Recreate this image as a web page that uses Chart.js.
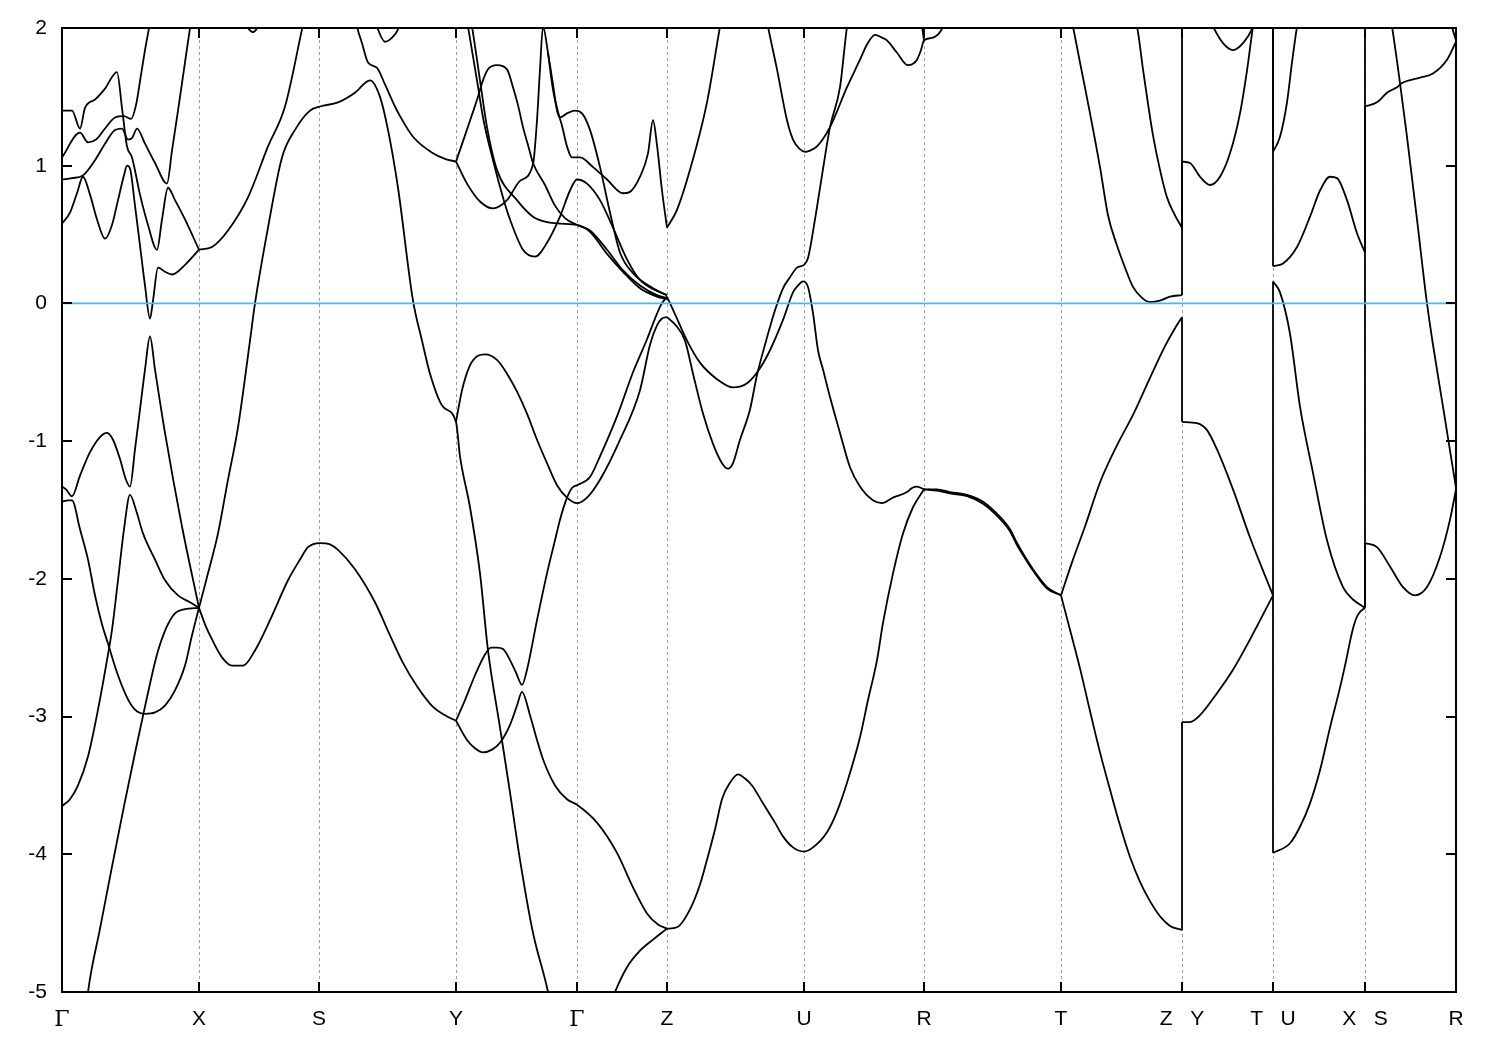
<!DOCTYPE html>
<html>
<head>
<meta charset="utf-8">
<script src="https://cdn.jsdelivr.net/npm/chart.js@4.4.0/dist/chart.umd.min.js"></script>
<style>
  html, body { margin: 0; background: #fff; }
</style>
</head>
<body>
<canvas id="bands" width="1500" height="1050"></canvas>
<script>
// high-symmetry points along the k-path
const kTicks = [0, 1.37, 2.57, 3.94, 5.15, 6.05, 7.42, 8.62, 9.99, 11.20, 12.11, 13.03, 13.94];
const kLabels = ['Γ', 'X', 'S', 'Y', 'Γ', 'Z', 'U', 'R', 'T', 'Z   Y', 'T   U', 'X   S', 'R'];
const energyTicks = [-5, -4, -3, -2, -1, 0, 1, 2];

// bands, [k, E(eV)]
const bandGX1 = [[0,1.40],[0.10,1.40],[0.18,1.27],[0.23,1.42],[0.33,1.48],[0.43,1.56],[0.55,1.68],[0.60,1.42],[0.65,1.14],[0.70,1.06],[0.78,0.79],[0.86,0.57],[0.95,0.39],[1.00,0.61],[1.06,0.84],[1.13,0.75],[1.23,0.61],[1.37,0.39]];
const bandGX2 = [[0,1.06],[0.18,1.24],[0.26,1.17],[0.34,1.19],[0.43,1.27],[0.53,1.35],[0.62,1.36],[0.69,1.34],[0.74,1.44],[0.79,1.66],[0.83,1.84],[0.87,2.00],[0.89,2.09]];
const bandGX3 = [[0,0.90],[0.10,0.91],[0.21,0.93],[0.33,1.04],[0.43,1.16],[0.53,1.26],[0.60,1.27],[0.66,1.19],[0.70,1.20],[0.75,1.27],[0.83,1.16],[0.93,1.02],[1.05,0.87],[1.10,1.11],[1.16,1.40],[1.22,1.70],[1.28,2.00],[1.30,2.09]];
const bandGX4 = [[0,0.58],[0.08,0.66],[0.15,0.80],[0.21,0.92],[0.28,0.79],[0.35,0.61],[0.43,0.47],[0.50,0.57],[0.56,0.75],[0.62,0.93],[0.65,1.00],[0.68,0.98],[0.73,0.71],[0.78,0.42],[0.83,0.13],[0.88,-0.11],[0.91,0.02],[0.96,0.26],[1.03,0.23],[1.10,0.21],[1.23,0.28],[1.37,0.39]];
const bandXS1 = [[1.37,0.39],[1.50,0.41],[1.66,0.53],[1.86,0.77],[2.06,1.14],[2.23,1.43],[2.40,1.99],[2.43,2.09]];
const bandXSY = [[1.37,-2.21],[1.46,-1.96],[1.56,-1.67],[1.66,-1.28],[1.76,-0.90],[1.88,-0.27],[1.93,0.00],[2.06,0.55],[2.20,1.06],[2.33,1.26],[2.48,1.40],[2.58,1.43],[2.76,1.46],[2.93,1.53],[3.08,1.62],[3.18,1.50],[3.26,1.26],[3.36,0.84],[3.51,0.02],[3.60,-0.27],[3.68,-0.51],[3.81,-0.75],[3.94,-0.86],[3.98,-1.11],[4.08,-1.48],[4.18,-1.96],[4.26,-2.52],[4.38,-3.08],[4.48,-3.55],[4.58,-4.04],[4.71,-4.57],[4.86,-5.00],[4.91,-5.20]];
const bandYGZ1 = [[3.94,-0.86],[4.00,-0.63],[4.08,-0.45],[4.16,-0.38],[4.23,-0.37],[4.35,-0.41],[4.45,-0.51],[4.55,-0.64],[4.65,-0.80],[4.75,-0.99],[4.85,-1.16],[4.95,-1.32],[5.05,-1.41],[5.15,-1.45],[5.25,-1.41],[5.38,-1.28],[5.58,-0.99],[5.78,-0.63],[5.88,-0.30],[5.95,-0.16],[6.00,-0.11],[6.05,-0.10]];
const bandGX5 = [[0,-1.33],[0.04,-1.35],[0.10,-1.40],[0.18,-1.25],[0.28,-1.08],[0.38,-0.97],[0.45,-0.94],[0.51,-0.99],[0.58,-1.13],[0.64,-1.28],[0.68,-1.33],[0.73,-1.06],[0.78,-0.77],[0.83,-0.48],[0.88,-0.24],[0.93,-0.48],[1.03,-0.94],[1.20,-1.62],[1.37,-2.21]];
const bandGX6 = [[0,-1.44],[0.06,-1.43],[0.10,-1.43],[0.18,-1.64],[0.26,-1.86],[0.33,-2.12],[0.40,-2.33],[0.46,-2.47],[0.55,-2.68],[0.65,-2.86],[0.73,-2.95],[0.83,-2.98],[0.93,-2.97],[1.03,-2.92],[1.13,-2.81],[1.23,-2.63],[1.30,-2.41],[1.37,-2.21]];
const bandGX7 = [[0,-3.65],[0.08,-3.60],[0.16,-3.50],[0.26,-3.29],[0.36,-2.95],[0.45,-2.59],[0.50,-2.37],[0.56,-2.01],[0.62,-1.64],[0.68,-1.39],[0.74,-1.50],[0.81,-1.67],[0.93,-1.86],[1.03,-2.01],[1.16,-2.12],[1.28,-2.17],[1.37,-2.21]];
const bandGX8 = [[0.24,-5.14],[0.26,-5.00],[0.38,-4.54],[0.50,-4.09],[0.62,-3.65],[0.74,-3.23],[0.85,-2.86],[0.95,-2.55],[1.04,-2.36],[1.13,-2.25],[1.23,-2.22],[1.37,-2.21]];
const bandXSY2 = [[1.37,-2.21],[1.43,-2.33],[1.50,-2.44],[1.60,-2.57],[1.70,-2.63],[1.81,-2.63],[1.93,-2.52],[2.08,-2.30],[2.26,-2.01],[2.38,-1.86],[2.46,-1.77],[2.58,-1.74],[2.68,-1.75],[2.76,-1.79],[2.93,-1.93],[3.13,-2.17],[3.28,-2.41],[3.41,-2.61],[3.55,-2.78],[3.71,-2.93],[3.83,-2.99],[3.94,-3.03]];
const bandYGZ2 = [[3.94,-3.03],[4.05,-3.17],[4.13,-3.23],[4.21,-3.26],[4.30,-3.24],[4.38,-3.19],[4.48,-3.06],[4.55,-2.92],[4.60,-2.82],[4.68,-2.99],[4.75,-3.17],[4.81,-3.31],[4.93,-3.50],[5.05,-3.60],[5.15,-3.64],[5.35,-3.77],[5.55,-3.99],[5.71,-4.24],[5.85,-4.43],[5.96,-4.51],[6.05,-4.54]];
const bandYGZ3 = [[3.94,-3.03],[4.03,-2.88],[4.13,-2.70],[4.23,-2.55],[4.29,-2.50],[4.35,-2.50],[4.41,-2.51],[4.48,-2.59],[4.54,-2.68],[4.60,-2.77],[4.65,-2.66],[4.75,-2.30],[4.85,-1.96],[4.93,-1.72],[4.98,-1.57],[5.05,-1.41],[5.10,-1.34],[5.15,-1.32],[5.28,-1.26],[5.38,-1.11],[5.55,-0.82],[5.71,-0.50],[5.85,-0.26],[5.93,-0.11],[5.99,-0.01],[6.05,0.05]];
const bandGZ4 = [[5.50,-5.06],[5.53,-5.00],[5.65,-4.82],[5.78,-4.70],[5.91,-4.62],[6.05,-4.54]];
const bandZUR1 = [[6.05,-4.54],[6.15,-4.53],[6.28,-4.40],[6.38,-4.22],[6.45,-4.04],[6.53,-3.82],[6.60,-3.60],[6.68,-3.48],[6.76,-3.42],[6.83,-3.45],[6.90,-3.50],[7.01,-3.63],[7.13,-3.77],[7.21,-3.87],[7.31,-3.95],[7.42,-3.98],[7.51,-3.95],[7.65,-3.84],[7.75,-3.69],[7.85,-3.48],[7.98,-3.15],[8.06,-2.88],[8.15,-2.59],[8.21,-2.32],[8.31,-1.96],[8.41,-1.67],[8.51,-1.48],[8.62,-1.35]];
const bandRT1 = [[8.62,-1.35],[8.75,-1.35],[8.88,-1.37],[9.05,-1.39],[9.21,-1.44],[9.38,-1.55],[9.48,-1.64],[9.55,-1.74],[9.63,-1.84],[9.71,-1.93],[9.85,-2.06],[9.99,-2.12]];
const bandRT2 = [[8.62,-1.35],[8.75,-1.36],[8.88,-1.38],[9.05,-1.40],[9.21,-1.455],[9.38,-1.565],[9.48,-1.655],[9.55,-1.755],[9.63,-1.85],[9.71,-1.94],[9.85,-2.07],[9.99,-2.12]];
// these two run on through the Z|Y, T|U and X|S breaks
const bandTail1 = [[9.99,-2.12],[10.10,-1.88],[10.23,-1.62],[10.38,-1.30],[10.55,-1.03],[10.71,-0.81],[10.88,-0.54],[11.03,-0.31],[11.13,-0.18],[11.20,-0.10],[11.20,-0.86],[11.35,-0.87],[11.45,-0.92],[11.55,-1.06],[11.71,-1.35],[11.88,-1.70],[12.11,-2.12],[12.11,0.16],[12.18,0.08],[12.28,-0.22],[12.38,-0.75],[12.51,-1.23],[12.65,-1.72],[12.81,-2.06],[12.91,-2.15],[13.03,-2.21],[13.03,1.43],[13.15,1.46],[13.25,1.53],[13.35,1.57],[13.40,1.60],[13.58,1.64],[13.71,1.67],[13.85,1.77],[13.94,1.90]];
const bandTail2 = [[9.99,-2.12],[10.08,-2.37],[10.18,-2.65],[10.28,-2.96],[10.38,-3.26],[10.48,-3.53],[10.58,-3.79],[10.68,-4.02],[10.78,-4.20],[10.88,-4.34],[10.98,-4.45],[11.08,-4.52],[11.20,-4.55],[11.20,-3.04],[11.28,-3.04],[11.38,-2.99],[11.55,-2.83],[11.71,-2.66],[11.88,-2.44],[12.11,-2.12],[12.11,-3.99],[12.28,-3.92],[12.38,-3.80],[12.48,-3.63],[12.58,-3.39],[12.68,-3.08],[12.78,-2.79],[12.83,-2.63],[12.91,-2.36],[12.96,-2.26],[13.03,-2.21],[13.03,-1.74],[13.15,-1.77],[13.28,-1.91],[13.41,-2.06],[13.53,-2.12],[13.65,-2.06],[13.78,-1.84],[13.88,-1.57],[13.94,-1.35]];
const bandTZY = [[10.09,2.09],[10.11,2.01],[10.21,1.64],[10.28,1.38],[10.38,0.99],[10.46,0.64],[10.55,0.42],[10.63,0.26],[10.71,0.12],[10.80,0.04],[10.88,0.01],[10.98,0.02],[11.08,0.05],[11.20,0.06],[11.20,1.03],[11.28,1.02],[11.38,0.92],[11.48,0.86],[11.58,0.92],[11.68,1.09],[11.78,1.38],[11.85,1.69],[11.91,2.01],[11.93,2.09]];
const bandTZ2 = [[10.69,2.09],[10.75,2.01],[10.81,1.70],[10.86,1.45],[10.91,1.22],[10.98,0.97],[11.05,0.77],[11.13,0.64],[11.20,0.55],[11.20,2.30]];
const bandYT3 = [[11.46,2.09],[11.51,2.01],[11.61,1.89],[11.71,1.84],[11.81,1.89],[11.91,2.01],[11.94,2.09]];
const bandUX1 = [[12.11,2.30],[12.11,0.27],[12.21,0.29],[12.35,0.41],[12.48,0.63],[12.58,0.82],[12.68,0.92],[12.75,0.91],[12.85,0.75],[12.95,0.51],[13.03,0.37],[13.03,2.30]];
const bandUX2 = [[12.11,2.30],[12.11,1.10],[12.18,1.21],[12.25,1.46],[12.30,1.75],[12.35,2.01],[12.37,2.09]];
const bandSR1 = [[13.28,2.09],[13.30,2.01],[13.38,1.60],[13.45,1.21],[13.55,0.61],[13.65,0.00],[13.71,-0.30],[13.81,-0.75],[13.94,-1.34]];
const bandSR2 = [[13.88,2.09],[13.90,2.01],[13.94,1.91]];
const bandZU1 = [[6.05,-0.10],[6.14,-0.16],[6.23,-0.27],[6.31,-0.51],[6.41,-0.80],[6.51,-1.02],[6.60,-1.16],[6.66,-1.20],[6.71,-1.16],[6.78,-0.99],[6.88,-0.77],[6.95,-0.52],[7.03,-0.30],[7.13,-0.05],[7.21,0.11],[7.28,0.19],[7.35,0.26],[7.42,0.28],[7.46,0.33],[7.53,0.61],[7.60,0.93],[7.68,1.28],[7.78,1.57],[7.85,2.01],[7.87,2.09]];
const bandZU2 = [[6.05,0.05],[6.15,-0.11],[6.25,-0.27],[6.38,-0.43],[6.55,-0.55],[6.71,-0.61],[6.85,-0.58],[6.98,-0.47],[7.08,-0.34],[7.21,-0.12],[7.31,0.08],[7.36,0.13],[7.41,0.16],[7.46,0.12],[7.51,-0.07],[7.56,-0.34],[7.61,-0.48],[7.68,-0.68],[7.78,-0.94],[7.88,-1.19],[7.98,-1.33],[8.11,-1.43],[8.20,-1.45],[8.31,-1.41],[8.45,-1.37],[8.50,-1.34],[8.55,-1.33],[8.59,-1.34],[8.62,-1.35]];
const bandUR3 = [[7.04,2.09],[7.06,2.01],[7.15,1.70],[7.25,1.33],[7.31,1.19],[7.38,1.12],[7.43,1.10],[7.48,1.11],[7.55,1.14],[7.68,1.28],[7.85,1.57],[7.98,1.77],[8.05,1.88],[8.13,1.95],[8.20,1.93],[8.25,1.91],[8.35,1.82],[8.46,1.73],[8.51,1.74],[8.55,1.77],[8.59,1.84],[8.62,1.91],[8.71,1.93],[8.81,2.01],[8.84,2.09]];
const bandUR4 = [[8.58,2.09],[8.60,2.01],[8.62,1.91]];
const bandZU3 = [[6.05,0.55],[6.15,0.68],[6.28,0.97],[6.45,1.46],[6.58,2.01],[6.61,2.13]];
const bandSY1 = [[2.93,2.09],[2.95,2.01],[3.00,1.89],[3.06,1.75],[3.15,1.71],[3.23,1.59],[3.33,1.43],[3.38,1.36],[3.51,1.21],[3.71,1.09],[3.83,1.05],[3.94,1.03]];
const bandXS2 = [[1.80,2.09],[1.85,2.01],[1.91,1.97],[1.96,2.01],[2.00,2.09]];
const bandSY2 = [[3.12,2.09],[3.16,1.99],[3.23,1.90],[3.30,1.93],[3.36,1.99],[3.40,2.09]];
const bandYGZ4 = [[3.94,1.03],[4.03,1.22],[4.10,1.37],[4.16,1.50],[4.20,1.60],[4.26,1.70],[4.35,1.73],[4.45,1.70],[4.51,1.57],[4.56,1.44],[4.61,1.28],[4.66,1.15],[4.71,1.02],[4.83,0.86],[4.93,0.71],[5.03,0.62],[5.15,0.57],[5.28,0.53],[5.45,0.39],[5.61,0.24],[5.78,0.13],[5.95,0.06],[6.05,0.04]];
const bandYGZ5 = [[3.94,1.03],[4.05,0.87],[4.18,0.74],[4.31,0.69],[4.45,0.75],[4.58,0.89],[4.71,1.01],[4.75,1.33],[4.78,1.70],[4.81,2.01],[4.86,1.82],[4.91,1.59],[4.95,1.40],[4.98,1.35],[5.05,1.38],[5.13,1.40],[5.20,1.38],[5.28,1.26],[5.38,0.99],[5.48,0.66],[5.58,0.37],[5.71,0.22],[5.91,0.11],[6.05,0.06]];
const bandGZ6 = [[4.86,1.82],[4.91,1.55],[4.96,1.39],[5.00,1.29],[5.05,1.14],[5.10,1.06],[5.18,1.06],[5.31,0.99],[5.45,0.90],[5.61,0.80],[5.68,0.81],[5.78,0.92],[5.86,1.09],[5.91,1.33],[5.95,1.15],[6.00,0.82],[6.05,0.55]];
const bandYGZ7 = [[4.04,2.09],[4.06,2.01],[4.15,1.62],[4.21,1.35],[4.31,1.04],[4.41,0.77],[4.48,0.61],[4.61,0.39],[4.73,0.34],[4.85,0.44],[4.98,0.63],[5.08,0.82],[5.15,0.90],[5.25,0.87],[5.38,0.75],[5.51,0.55],[5.65,0.32],[5.78,0.17],[5.95,0.09],[6.05,0.06]];
const bandYGZ8 = [[4.08,2.09],[4.10,2.01],[4.18,1.62],[4.25,1.28],[4.35,0.97],[4.55,0.75],[4.71,0.63],[4.85,0.59],[4.98,0.58],[5.15,0.57],[5.28,0.52],[5.45,0.36],[5.61,0.23],[5.78,0.11],[5.95,0.05],[6.05,0.03]];

const bands = [bandGX1, bandGX2, bandGX3, bandGX4, bandXS1, bandXSY, bandYGZ1, bandGX5, bandGX6, bandGX7, bandGX8,
  bandXSY2, bandYGZ2, bandYGZ3, bandGZ4, bandZUR1, bandRT1, bandRT2, bandTail1, bandTail2, bandTZY, bandTZ2, bandYT3,
  bandUX1, bandUX2, bandSR1, bandSR2, bandZU1, bandZU2, bandUR3, bandUR4, bandZU3, bandSY1, bandXS2, bandSY2,
  bandYGZ4, bandYGZ5, bandGZ6, bandYGZ7, bandYGZ8];

// cut a band where it jumps at a path break, so the jump is drawn straight
function pieces(band) {
  const out = [];
  let cur = [band[0]];
  for (let i = 1; i < band.length; i++) {
    if (band[i][0] === band[i - 1][0]) {
      if (cur.length > 1) out.push({ pts: cur, smooth: true });
      out.push({ pts: [band[i - 1], band[i]], smooth: false });
      cur = [band[i]];
    } else {
      cur.push(band[i]);
    }
  }
  if (cur.length > 1) out.push({ pts: cur, smooth: true });
  return out;
}

const datasets = [{
  data: [{ x: 0, y: 0 }, { x: 13.94, y: 0 }],
  borderColor: '#56b4e9',
  borderWidth: 1.8,
  pointRadius: 0,
  order: 0,
  clip: 0
}];
bands.forEach(b => {
  pieces(b).forEach(p => {
    datasets.push({
      data: p.pts.map(q => ({ x: q[0], y: q[1] })),
      borderColor: '#000',
      borderWidth: 1.8,
      pointRadius: 0,
      cubicInterpolationMode: p.smooth ? 'monotone' : 'default',
      tension: 0,
      order: 1,
      clip: 0
    });
  });
});

const frame = {
  id: 'frame',
  beforeDatasetsDraw(chart) {
    const { ctx, chartArea: a, scales: { x } } = chart;
    ctx.save();
    ctx.strokeStyle = '#a0a0a0';
    ctx.lineWidth = 1;
    ctx.setLineDash([3, 3]);
    kTicks.slice(1, -1).forEach(k => {
      const px = Math.round(x.getPixelForValue(k)) + 0.5;
      ctx.beginPath();
      ctx.moveTo(px, a.top);
      ctx.lineTo(px, a.bottom);
      ctx.stroke();
    });
    ctx.restore();
  },
  afterDraw(chart) {
    const { ctx, chartArea: a, scales: { x, y } } = chart;
    ctx.save();
    ctx.strokeStyle = '#000';
    ctx.lineWidth = 2;
    ctx.strokeRect(a.left, a.top, a.right - a.left, a.bottom - a.top);
    ctx.beginPath();
    energyTicks.forEach(e => {
      const py = Math.round(y.getPixelForValue(e));
      ctx.moveTo(a.left, py); ctx.lineTo(a.left + 10, py);
      ctx.moveTo(a.right, py); ctx.lineTo(a.right - 10, py);
    });
    kTicks.forEach(k => {
      const px = Math.round(x.getPixelForValue(k));
      ctx.moveTo(px, a.bottom); ctx.lineTo(px, a.bottom - 10);
      ctx.moveTo(px, a.top); ctx.lineTo(px, a.top + 10);
    });
    ctx.stroke();
    ctx.restore();
  }
};

new Chart(document.getElementById('bands'), {
  type: 'line',
  data: { datasets },
  options: {
    responsive: false,
    animation: false,
    devicePixelRatio: 1,
    layout: { padding: { top: 28, right: 44, left: 0, bottom: 0 } },
    plugins: { legend: { display: false }, tooltip: { enabled: false } },
    scales: {
      x: {
        type: 'linear',
        min: 0,
        max: 13.94,
        grid: { display: false, drawTicks: false },
        border: { display: false },
        afterBuildTicks: s => { s.ticks = kTicks.map(v => ({ value: v })); },
        afterFit: s => { s.height = 58; },
        ticks: {
          autoSkip: false,
          maxRotation: 0,
          padding: 15,
          color: '#000',
          font: c => (c.tick && c.tick.label === 'Γ')
            ? { family: '"DejaVu Serif", "Liberation Serif", serif', size: 22 }
            : { family: '"Liberation Sans", Arial, sans-serif', size: 21 },
          callback: (v, i) => kLabels[i]
        }
      },
      y: {
        min: -5,
        max: 2,
        grid: { display: false, drawTicks: false },
        border: { display: false },
        afterBuildTicks: s => { s.ticks = energyTicks.map(v => ({ value: v })); },
        afterFit: s => { s.width = 62; },
        ticks: {
          padding: 15,
          color: '#000',
          font: { family: '"Liberation Sans", Arial, sans-serif', size: 21 },
          callback: v => String(v)
        }
      }
    }
  },
  plugins: [frame]
});
</script>
</body>
</html>
